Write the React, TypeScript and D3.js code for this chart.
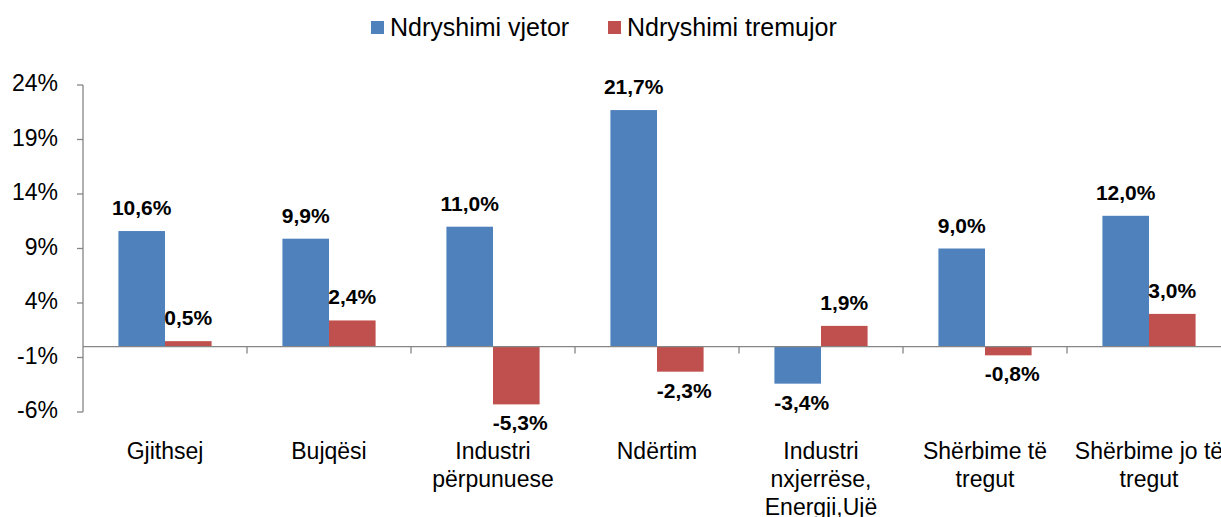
import * as d3 from 'd3';

const categories = [
  ['Gjithsej'],
  ['Bujqësi'],
  ['Industri', 'përpunuese'],
  ['Ndërtim'],
  ['Industri', 'nxjerrëse,', 'Energji,Ujë'],
  ['Shërbime të', 'tregut'],
  ['Shërbime jo të', 'tregut'],
];
const seriesNames = ['Ndryshimi vjetor', 'Ndryshimi tremujor'];
const annual = [10.6, 9.9, 11.0, 21.7, -3.4, 9.0, 12.0];
const quarterly = [0.5, 2.4, -5.3, -2.3, 1.9, -0.8, 3.0];
const yTicks = [-6, -1, 4, 9, 14, 19, 24];

const colors = ['#4F81BD', '#C0504D'];
const font = "Arial, 'Liberation Sans', sans-serif";

export default function App() {
  const width = 1221;
  const height = 517;
  const left = 83;
  const top = 85;
  const bottom = 412;

  const keys = categories.map((c) => c.join(' '));
  const x0 = d3.scaleBand().domain(keys).range([left, left + 164 * 7]).padding(0);
  const x1 = d3
    .scaleBand()
    .domain(seriesNames)
    .range([0, x0.bandwidth()])
    .paddingInner(0)
    .paddingOuter(0.76);
  const y = d3.scaleLinear().domain([-6, 24]).range([bottom, top]);
  const y0 = y(0);

  const series = [annual, quarterly];
  const fmt = (v: number) => v.toFixed(1).replace('.', ',') + '%';

  return (
    <svg
      width={width}
      height={height}
      style={{ position: 'absolute', left: 0, top: 0, background: '#fff' }}
      fontFamily={font}
    >
      {/* legend */}
      {seriesNames.map((name, i) => {
        const lx = i === 0 ? 371 : 608;
        return (
          <g key={name}>
            <rect x={lx} y={21} width={13} height={13} fill={colors[i]} />
            <text x={lx + 19} y={36} fontSize={25} fill="#000">
              {name}
            </text>
          </g>
        );
      })}

      {/* y axis */}
      <line x1={left} x2={left} y1={top} y2={bottom} stroke="#868686" strokeWidth={1.3} />
      {yTicks.map((t) => (
        <g key={t}>
          <line x1={left - 6} x2={left} y1={y(t)} y2={y(t)} stroke="#868686" strokeWidth={1.3} />
          <text
            x={58}
            y={y(t)}
            textAnchor="end"
            dominantBaseline="middle"
            fontSize={23}
            fill="#000"
          >
            {t + '%'}
          </text>
        </g>
      ))}

      {/* bars */}
      {series.map((vals, si) =>
        vals.map((v, ci) => {
          const bx = x0(keys[ci])! + x1(seriesNames[si])!;
          const bw = x1.bandwidth();
          const yTop = Math.min(y(v), y0);
          const h = Math.abs(y(v) - y0);
          const cx = bx + bw / 2;
          return (
            <g key={`${si}-${ci}`}>
              <rect x={bx} y={yTop} width={bw} height={h} fill={colors[si]} />
              <text
                x={cx + (v < 0 ? 4 : 0)}
                y={v >= 0 ? y(v) - 16 : y(v) + 26}
                textAnchor="middle"
                fontSize={21}
                fontWeight="bold"
                fill="#000"
              >
                {fmt(v)}
              </text>
            </g>
          );
        })
      )}

      {/* x axis at zero */}
      <line x1={left} x2={width} y1={y0} y2={y0} stroke="#868686" strokeWidth={1.3} />
      {keys.map((k) => (
        <line
          key={k}
          x1={x0(k)! + x0.bandwidth()}
          x2={x0(k)! + x0.bandwidth()}
          y1={y0}
          y2={y0 + 7}
          stroke="#868686"
          strokeWidth={1.3}
        />
      ))}

      {/* category labels */}
      {categories.map((lines, ci) => (
        <text
          key={ci}
          x={x0(keys[ci])! + x0.bandwidth() / 2}
          y={459}
          textAnchor="middle"
          fontSize={23}
          fill="#000"
        >
          {lines.map((ln, li) => (
            <tspan key={li} x={x0(keys[ci])! + x0.bandwidth() / 2} dy={li === 0 ? 0 : 28}>
              {ln}
            </tspan>
          ))}
        </text>
      ))}
    </svg>
  );
}
